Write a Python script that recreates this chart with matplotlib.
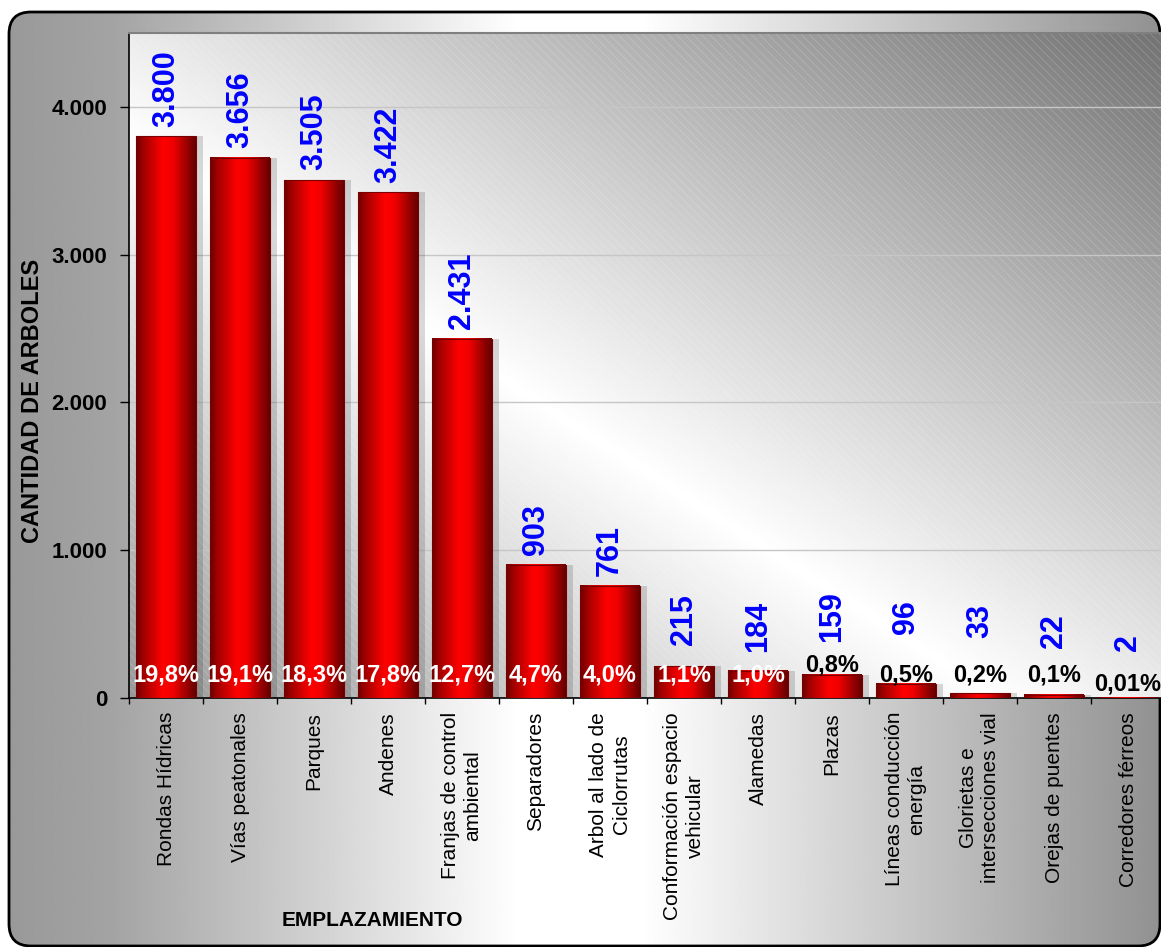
import numpy as np
import matplotlib

matplotlib.use("Agg")
import matplotlib.pyplot as plt
from matplotlib.colors import LinearSegmentedColormap
from matplotlib.patches import FancyBboxPatch, Rectangle

plt.rcParams["font.family"] = ["Liberation Sans", "DejaVu Sans"]
plt.rcParams["hatch.linewidth"] = 0.5

categories = [
    "Rondas Hídricas", "Vías peatonales", "Parques", "Andenes",
    "Franjas de control\nambiental", "Separadores", "Arbol al lado de\nCiclorrutas",
    "Conformación espacio\nvehicular", "Alamedas", "Plazas",
    "Líneas conducción\nenergía", "Glorietas e\nintersecciones vial",
    "Orejas de puentes", "Corredores férreos",
]
trees = [3800, 3656, 3505, 3422, 2431, 903, 761, 215, 184, 159, 96, 33, 22, 2]
shares = ["19,8%", "19,1%", "18,3%", "17,8%", "12,7%", "4,7%", "4,0%",
          "1,1%", "1,0%", "0,8%", "0,5%", "0,2%", "0,1%", "0,01%"]
y_ticks = [0, 1000, 2000, 3000, 4000]
y_tick_labels = ["0", "1.000", "2.000", "3.000", "4.000"]

# label placement (data units), hand-tuned like the original sheet
share_baseline = [113] * 9 + [181, 113, 113, 113, 52]
share_white = 9
small_value_bottom = [359, 313, 381, 433, 404, 336, 320]

W, H, DPI = 1161, 947, 100
fig = plt.figure(figsize=(W / DPI, H / DPI), dpi=DPI)
fig.patch.set_facecolor("white")

# outer rounded frame with horizontal grey-white-grey gradient (pixel coords, y up)
bg = fig.add_axes([0, 0, 1, 1], zorder=-1)
bg.set_xlim(0, W)
bg.set_ylim(0, H)
bg.axis("off")
xpix = np.linspace(0, W, 800)
shade = np.interp(xpix, [9, 110, 520, 640, 1161], [0.60, 0.64, 1.0, 1.0, 0.57])
frame = FancyBboxPatch((9, H - 946), 1151, 934, boxstyle="round,pad=0,rounding_size=22",
                       facecolor="none", edgecolor="black", lw=2, zorder=2)
bg.add_patch(frame)
im = bg.imshow(np.tile(shade, (2, 1)), cmap="gray", vmin=0, vmax=1,
               extent=(0, W, 0, H), aspect="auto", interpolation="bilinear", zorder=1)
im.set_clip_path(frame)

ax = fig.add_axes([129 / W, (H - 698) / H, 1036 / W, 665 / H])
ax.set_facecolor("none")
x = np.arange(len(categories))
xmin, xmax, ymax = -0.5, len(categories) - 0.5, 4500

# plot area: diagonal gradient, dark bottom-left and top-right, white in between
gx, gy = np.meshgrid(np.linspace(0, 1, 400), np.linspace(0, 1, 400))
t = 0.5 * gx + 0.5 * gy
area = np.interp(t, [0, 0.42, 1], [0.60, 1.0, 0.45])
ax.imshow(area, cmap="gray", vmin=0, vmax=1, origin="lower",
          extent=(xmin, xmax, 0, ymax), aspect="auto", zorder=0)
ax.add_patch(Rectangle((xmin, 0), xmax - xmin, ymax, facecolor="none",
                       edgecolor=(1, 1, 1, 0.22), hatch="\\\\\\\\", lw=0, zorder=0.4))
ax.set_axisbelow(True)
ax.yaxis.grid(True, color="#c6c6c6", lw=1)

bars = ax.bar(x, trees, width=0.81, color="none", edgecolor="#7a0000", lw=0.8, zorder=3)
bar_cmap = LinearSegmentedColormap.from_list(
    "bar", [(0, "#6a0000"), (0.12, "#a00000"), (0.45, "#ff0000"),
            (0.62, "#f00000"), (0.9, "#880000"), (1, "#660000")])
grad = np.linspace(0, 1, 256).reshape(1, -1)
for b in bars:
    x0, w, h = b.get_x(), b.get_width(), b.get_height()
    ax.add_patch(Rectangle((x0 + w, 0), 0.1, h, facecolor="black", alpha=0.15, lw=0, zorder=2))
    ax.imshow(grad, cmap=bar_cmap, extent=(x0, x0 + w, 0, h), aspect="auto",
              interpolation="bicubic", zorder=2.9)

for i, (xi, v) in enumerate(zip(x, trees)):
    label = f"{v:,}".replace(",", ".")
    if i < 7:
        ax.annotate(label, (xi, v), xytext=(0, 7), textcoords="offset points",
                    rotation=90, ha="center", va="bottom", color="#0000ff",
                    fontsize=22, fontweight="bold", zorder=5)
    else:
        ax.text(xi, small_value_bottom[i - 7], label, rotation=90, ha="center",
                va="bottom", color="#0000ff", fontsize=22, fontweight="bold", zorder=5)
    ax.text(xi, share_baseline[i], shares[i], ha="center", va="baseline",
            color="white" if i < share_white else "black",
            fontsize=17, fontweight="bold", zorder=5)

ax.set_xlim(xmin, xmax)
ax.set_ylim(0, ymax)
ax.set_yticks(y_ticks, y_tick_labels, fontsize=16, fontweight="bold")
ax.set_xticks(x, categories, rotation=90, fontsize=15)
ax.set_xticks(np.arange(xmin, xmax + 1), minor=True)
ax.tick_params(axis="y", length=6.5, width=1, direction="out", pad=9)
ax.tick_params(axis="x", which="major", length=0, pad=10)
ax.tick_params(axis="x", which="minor", length=4.5, width=1, direction="out")

for side in ("left", "bottom"):
    ax.spines[side].set_color("black")
    ax.spines[side].set_linewidth(1.2)
ax.spines["top"].set_color("#808080")
ax.spines["top"].set_linewidth(1.5)
ax.spines["right"].set_visible(False)

fig.text(33 / W, 1 - 401 / H, "CANTIDAD DE ARBOLES", rotation=90, ha="center",
         va="center", fontsize=17, fontweight="bold")
fig.text(372 / W, 1 - 920 / H, "EMPLAZAMIENTO", ha="center", va="center",
         fontsize=15, fontweight="bold")

fig.savefig("out.png", dpi=DPI)
